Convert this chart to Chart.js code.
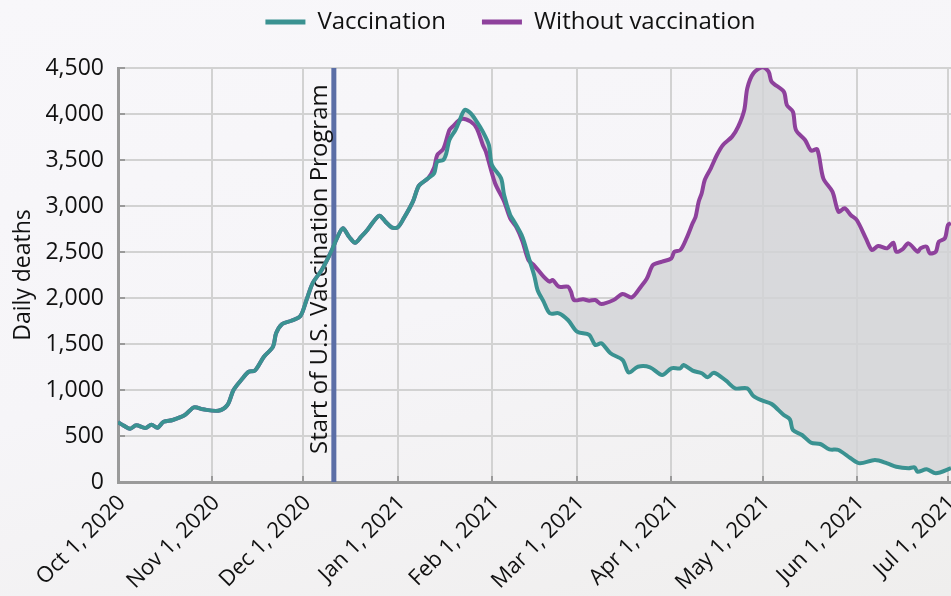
<!DOCTYPE html>
<html><head><meta charset="utf-8">
<script src="https://cdn.jsdelivr.net/npm/chart.js@4.4.1/dist/chart.umd.min.js"></script>
<style>
html,body{margin:0;padding:0;width:951px;height:596px;overflow:hidden;
background:linear-gradient(165deg,#f8f7fa 0%,#f6f5f8 50%,#efeeed 100%);}
canvas{display:block;}
</style></head><body>
<canvas id="c" width="951" height="596"></canvas>
<script>
// ---- data ----
const seriesNames = ['Vaccination', 'Without vaccination'];
const startDate = '2020-10-01';
const tickDates = ['2020-10-01','2020-11-01','2020-12-01','2021-01-01','2021-02-01','2021-03-01','2021-04-01','2021-05-01','2021-06-01','2021-07-01'];
const tickLabels = ['Oct 1, 2020','Nov 1, 2020','Dec 1, 2020','Jan 1, 2021','Feb 1, 2021','Mar 1, 2021','Apr 1, 2021','May 1, 2021','Jun 1, 2021','Jul 1, 2021'];
const vaccinationStartDate = '2020-12-11';
const vaccinationStartLabel = 'Start of U.S. Vaccination Program';
const yAxisTitle = 'Daily deaths';
const yTicks = [0,500,1000,1500,2000,2500,3000,3500,4000,4500];

// days since Oct 1, 2020
const vaccDays = [0,2,4,6,9,11,13,15,18,22, 25,28,33,36,38,41,43,45,48,51, 52,54,57,60,62,64,67,70,72,74, 76,78,80,82,84,86,88,90,92,94, 97,99,102,104,105,107,108,109,111,112, 114,116,118,120,122,123,126,127,129,130, 133,135,137,138,140,142,145,148,151,155, 157,159,162,166,168,171,175,179,182,185, 186,189,192,194,196,200,203,207,209,212, 215,219,221,222,225,228,231,234,237,241, 244,249,253,256,260,262,263,266,269,274];
const vaccDeaths = [650,610,580,616,587,623,590,655,674,728, 812,790,775,837,1000,1127,1199,1210,1362,1471, 1616,1717,1753,1804,1978,2160,2304,2495,2649,2757, 2666,2601,2666,2739,2829,2895,2829,2768,2768,2866, 3047,3221,3301,3356,3482,3500,3573,3718,3826,3899, 4044,4008,3917,3808,3663,3446,3301,3120,2902,2848, 2666,2449,2232,2087,1960,1834,1834,1761,1634,1598, 1489,1507,1399,1326,1190,1253,1247,1163,1236,1236, 1272,1210,1182,1138,1188,1101,1018,1018,935,884, 848,728,681,565,511,427,413,355,348,258, 203,239,203,166,149,160,112,138,95,150];

const noVaccDays = [0,2,4,6,9,11,13,15,18,22, 25,28,33,36,38,41,43,45,48,51, 52,54,57,60,62,64,67,70,72,74, 76,78,80,82,84,86,88,90,92,94, 97,99,102, 104,105,107,109,110,113,116,118,120,121, 124,127,129,131,133,135,137,140,142,143, 145,148,149,150,153,155,157,159,163,166, 169,172,174,176,179,182,183,185,187,189, 190,191,192,193,195,197,199,202,204,206, 207,209,212,214,215,219,220,222,223,226, 228,230,232,235,237,239,241,243,246,248, 250,253,255,256,258,260,263,264,266,267, 269,270,272,273,274];
const noVaccDeaths = [650,610,580,616,587,623,590,655,674,728, 812,790,775,837,1000,1127,1199,1210,1362,1471, 1616,1717,1753,1804,1978,2160,2304,2495,2649,2757, 2666,2601,2666,2739,2829,2895,2829,2768,2768,2866, 3047,3221,3301, 3420,3554,3620,3826,3862,3946,3917,3845,3663,3590, 3250,3050,2866,2770,2620,2413,2350,2232,2177,2196, 2123,2123,2069,1978,1986,1971,1978,1935,1978,2044, 2007,2123,2214,2359,2395,2431,2503,2522,2649,2812, 2884,3047,3138,3283,3410,3554,3663,3754,3862,4044, 4280,4443,4508,4460,4351,4243,4098,4025,3826,3718, 3601,3616,3301,3156,2938,2975,2902,2848,2649,2522, 2565,2540,2601,2503,2529,2594,2503,2540,2558,2486, 2503,2612,2649,2794,2812];

// ---- helpers ----
const dayOf = s => Math.round((Date.parse(s + 'T00:00:00Z') - Date.parse(startDate + 'T00:00:00Z')) / 86400000);
const tickDays = tickDates.map(dayOf);
const vaccStartDay = dayOf(vaccinationStartDate);
const toPts = (xs, ys) => xs.map((x, i) => ({x, y: ys[i]}));

const TEAL = '#3a9291';
const PURPLE = '#8e419c';
const FONT = "'Open Sans', sans-serif";

Chart.defaults.font.family = FONT;
Chart.defaults.color = '#111';

const layoutPlugin = {
  id: 'layoutTweaks',
  afterInit(chart) {
    const lg = chart.legend;
    const f = lg.fit.bind(lg);
    lg.fit = function () { f(); this.height = 68; };
  },
  afterLayout(chart) {
    const lg = chart.legend;
    lg.left += 35; lg.right += 35;
    lg.top -= 26; lg.bottom -= 26;
  }
};

const vlinePlugin = {
  id: 'vline',
  beforeDatasetsDraw(chart) {
    const {ctx, chartArea, scales: {x}} = chart;
    const px = x.getPixelForValue(vaccStartDay);
    ctx.save();
    ctx.strokeStyle = '#5b6ea6';
    ctx.lineWidth = 5;
    ctx.beginPath();
    ctx.moveTo(px, chartArea.top);
    ctx.lineTo(px, chartArea.bottom);
    ctx.stroke();
    ctx.translate(px - 7, chartArea.bottom - 28);
    ctx.rotate(-Math.PI / 2);
    ctx.font = "24px " + FONT;
    ctx.fillStyle = '#111';
    ctx.textAlign = 'left';
    ctx.textBaseline = 'alphabetic';
    ctx.fillText(vaccinationStartLabel, 0, 0);
    ctx.restore();
  },
  afterDraw(chart) {
    const {ctx, chartArea, scales: {x, y}} = chart;
    ctx.save();
    ctx.strokeStyle = '#9a9a9a';
    ctx.lineWidth = 2;
    ctx.beginPath();
    y.ticks.forEach(t => {
      const py = Math.round(y.getPixelForValue(t.value));
      ctx.moveTo(chartArea.left - 1, py);
      ctx.lineTo(chartArea.left + 7, py);
    });
    x.ticks.forEach(t => {
      const px = Math.round(x.getPixelForValue(t.value));
      ctx.moveTo(px, chartArea.bottom + 1);
      ctx.lineTo(px, chartArea.bottom - 6);
    });
    ctx.stroke();
    ctx.restore();
  }
};

new Chart(document.getElementById('c'), {
  type: 'line',
  data: {
    datasets: [
      {
        label: seriesNames[0],
        data: toPts(vaccDays, vaccDeaths),
        borderColor: TEAL,
        backgroundColor: TEAL,
        borderWidth: 4,
        pointRadius: 0,
        tension: 0.3,
        borderJoinStyle: 'round',
        fill: false
      },
      {
        label: seriesNames[1],
        data: toPts(noVaccDays, noVaccDeaths),
        borderColor: PURPLE,
        backgroundColor: 'rgba(210,211,214,0.82)',
        borderWidth: 4,
        pointRadius: 0,
        tension: 0.3,
        borderJoinStyle: 'round',
        fill: {target: 0}
      }
    ]
  },
  options: {
    responsive: false,
    animation: false,
    layout: {padding: 0},
    plugins: {
      tooltip: {enabled: false},
      legend: {
        position: 'top',
        labels: {
          boxWidth: 40,
          boxHeight: 5,
          padding: 36,
          font: {size: 24, family: FONT},
          color: '#111',
          generateLabels(chart) {
            const items = Chart.defaults.plugins.legend.labels.generateLabels(chart);
            items.forEach(it => { it.fillStyle = it.strokeStyle; it.lineWidth = 0; });
            return items;
          }
        }
      }
    },
    scales: {
      x: {
        type: 'linear',
        min: 0,
        max: 274,
        afterBuildTicks(s) { s.ticks = tickDays.map(v => ({value: v})); },
        afterFit(s) { s.height = 114; s.paddingLeft = 0; s.paddingRight = 0; },
        ticks: {
          autoSkip: false,
          maxRotation: 45,
          minRotation: 45,
          padding: 8,
          labelOffset: 4,
          font: {size: 22, family: FONT},
          color: '#111',
          callback(v) { const i = tickDays.indexOf(v); return i >= 0 ? tickLabels[i] : ''; }
        },
        grid: {color: '#d2d2d2', lineWidth: 2, drawTicks: false},
        border: {color: '#9a9a9a', width: 3}
      },
      y: {
        min: 0,
        max: 4500,
        afterBuildTicks(s) { s.ticks = yTicks.map(v => ({value: v})); },
        afterFit(s) { s.width = 118; },
        ticks: {
          padding: 14,
          font: {size: 23, family: FONT},
          color: '#111',
          callback(v) { return v.toLocaleString('en-US'); }
        },
        grid: {color: '#d2d2d2', lineWidth: 2, drawTicks: false},
        border: {color: '#9a9a9a', width: 3},
        title: {
          display: true,
          text: yAxisTitle,
          font: {size: 23, family: FONT},
          color: '#111',
          padding: {top: 10, bottom: 0}
        }
      }
    }
  },
  plugins: [layoutPlugin, vlinePlugin]
});
</script>
</body></html>
